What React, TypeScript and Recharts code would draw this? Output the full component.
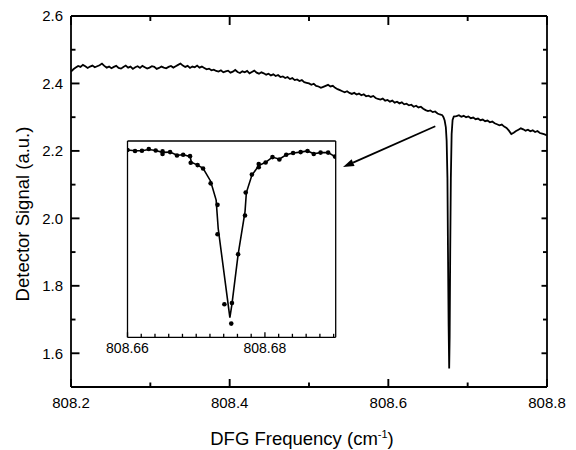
import { LineChart, Line, XAxis, YAxis, ReferenceLine, ComposedChart, Scatter, Label } from 'recharts'

const FONT = '"Liberation Sans", Arial, Helvetica, sans-serif'

// main scan: one sample every 0.003 cm-1 from 808.200; null where the finer dip samples take over
const scanStart = 808.2
const scanStep = 0.003
const scanSignal = [
  2.435, 2.442, 2.447, 2.452, 2.449, 2.455, 2.451, 2.446, 2.450, 2.453,
  2.448, 2.451, 2.454, 2.459, 2.452, 2.447, 2.450, 2.445, 2.449, 2.452,
  2.446, 2.444, 2.449, 2.453, 2.447, 2.450, 2.443, 2.448, 2.451, 2.446,
  2.452, 2.448, 2.444, 2.447, 2.451, 2.449, 2.443, 2.446, 2.450, 2.447,
  2.445, 2.449, 2.452, 2.447, 2.451, 2.455, 2.459, 2.453, 2.449, 2.452,
  2.446, 2.450, 2.448, 2.453, 2.447, 2.450, 2.446, 2.442, 2.444, 2.439,
  2.441, 2.437, 2.435, 2.439, 2.433, 2.436, 2.438, 2.432, 2.435, 2.440,
  2.434, 2.431, 2.436, 2.433, 2.437, 2.430, 2.434, 2.438, 2.432, 2.429,
  2.433, 2.430, 2.426, 2.429, 2.424, 2.427, 2.422, 2.425, 2.419, 2.421,
  2.416, 2.419, 2.413, 2.416, 2.410, 2.412, 2.407, 2.410, 2.404, 2.402,
  2.400, 2.396, 2.399, 2.393, 2.391, 2.387, 2.390, 2.393, 2.396, 2.391,
  2.393, 2.387, 2.383, 2.380, 2.377, 2.374, 2.377, 2.372, 2.369, 2.372,
  2.367, 2.370, 2.365, 2.368, 2.362, 2.364, 2.360, 2.363, 2.357, 2.354,
  2.352, 2.355, 2.349, 2.351, 2.346, 2.349, 2.343, 2.346, 2.341, 2.344,
  2.338, 2.340, 2.335, 2.337, 2.331, 2.334, 2.329, 2.331, 2.325, 2.321,
  2.318, 2.320, 2.315, 2.317, 2.311, 2.308, 2.306, null, null, null,
  null, null, 2.303, 2.306, 2.301, 2.304, 2.300, 2.302, 2.297, 2.299,
  2.294, 2.296, 2.291, 2.293, 2.288, 2.290, 2.285, 2.287, 2.282, 2.279,
  2.276, 2.278, 2.272, 2.268, 2.260, 2.250, 2.254, 2.259, 2.263, 2.267,
  2.264, 2.260, 2.263, 2.258, 2.261, 2.256, 2.259, 2.253, 2.251, 2.249,
  2.246,
]

// finer samples through the absorption line
const dipFreq = [808.6695, 808.671, 808.6725, 808.6735, 808.6745, 808.6752, 808.676, 808.6767, 808.6773, 808.678, 808.6788, 808.6798, 808.681, 808.6825]
const dipSignal = [2.3, 2.29, 2.27, 2.23, 2.12, 1.9, 1.68, 1.555, 1.65, 1.9, 2.12, 2.25, 2.292, 2.302]

const mainXTicks = [808.2, 808.3, 808.4, 808.5, 808.6, 808.7, 808.8]
const mainXLabels = [808.2, 808.4, 808.6, 808.8]
const mainYTicks = [1.6, 1.7, 1.8, 1.9, 2.0, 2.1, 2.2, 2.3, 2.4, 2.5, 2.6]
const mainYLabels = [1.6, 1.8, 2.0, 2.2, 2.4, 2.6]

// inset: measured points and the fitted curve
const insetDotFreq = [
  808.66, 808.6611, 808.6621, 808.6631, 808.6641, 808.6651, 808.6651, 808.6662, 808.6672, 808.6681,
  808.6691, 808.6692, 808.6702, 808.671, 808.6721, 808.6731, 808.6731, 808.6741, 808.6752, 808.6751,
  808.6761, 808.6771, 808.6772, 808.6781, 808.6791, 808.6791, 808.6801, 808.6811, 808.6821, 808.6831,
  808.6841, 808.6852, 808.6862, 808.6871, 808.6881, 808.6892, 808.6902,
]
const insetDotSignal = [
  2.292, 2.288, 2.289, 2.296, 2.29, 2.286, 2.275, 2.283, 2.269, 2.272,
  2.266, 2.238, 2.228, 2.214, 2.151, 2.06, 1.936, 1.64, 1.645, 1.558,
  1.851, 2.015, 2.112, 2.188, 2.219, 2.233, 2.239, 2.262, 2.252, 2.272,
  2.279, 2.283, 2.288, 2.275, 2.281, 2.281, 2.264,
]
const insetFitFreq = [
  808.66, 808.6611, 808.6621, 808.6631, 808.6641, 808.6651, 808.6662, 808.6672, 808.6681, 808.6691,
  808.6693, 808.6702, 808.671, 808.6721, 808.6729, 808.6732, 808.6749, 808.6752, 808.6761, 808.6771,
  808.6773, 808.6781, 808.6791, 808.6801, 808.6811, 808.6821, 808.6831, 808.6841, 808.6852, 808.6862,
  808.6871, 808.6881, 808.6892, 808.6902,
]
const insetFitSignal = [
  2.292, 2.289, 2.289, 2.294, 2.29, 2.282, 2.283, 2.27, 2.272, 2.265,
  2.24, 2.228, 2.214, 2.16, 2.08, 1.96, 1.583, 1.64, 1.851, 2.03,
  2.112, 2.185, 2.226, 2.24, 2.262, 2.253, 2.272, 2.279, 2.283, 2.288,
  2.276, 2.281, 2.281, 2.264,
]
const insetXTicks = [808.66, 808.662, 808.664, 808.666, 808.668, 808.67, 808.672, 808.674, 808.676, 808.678, 808.68, 808.682, 808.684, 808.686, 808.688, 808.69]
const insetXLabels = [808.66, 808.68]

// arrow from the dip to the inset
const arrowFrom = { x: 808.6592, y: 2.273 }
const arrowTo = { x: 808.5429, y: 2.152 }

const mainData = scanSignal
  .map((y, i) => (y == null ? null : { x: +(scanStart + i * scanStep).toFixed(3), y }))
  .filter((d): d is { x: number; y: number } => d != null)
  .concat(dipFreq.map((x, i) => ({ x, y: dipSignal[i] })))
  .sort((a, b) => a.x - b.x)

const insetDots = insetDotFreq.map((x, i) => ({ x, y: insetDotSignal[i] }))
const insetFit = insetFitFreq.map((x, i) => ({ x, y: insetFitSignal[i] }))

const isIn = (v: number, list: number[]) => list.some(l => Math.abs(l - v) < 1e-6)

type Side = 'bottom' | 'top' | 'left' | 'right'

// inward ticks; labels only where listed
function makeTick(side: Side, labels: number[], major: number, minor: number, opts: { fontSize?: number; gap?: number; digits?: number; width?: number } = {}) {
  const { fontSize = 15, gap = 0, digits = 1, width = 1.9 } = opts
  return (p: any) => {
    const v = p.payload.value
    const big = isIn(v, labels)
    const len = big ? major : minor
    const x = Number(p.x)
    const y = Number(p.y)
    let end = { x, y }
    if (side === 'bottom') end = { x, y: y - len }
    else if (side === 'top') end = { x, y: y + len }
    else if (side === 'left') end = { x: x + len, y }
    else end = { x: x - len, y }
    let text = null
    if (big && gap > 0) {
      if (side === 'bottom') {
        text = <text x={x} y={y + gap} textAnchor="middle" fontSize={fontSize} fontFamily={FONT} fill="#000">{v.toFixed(digits)}</text>
      } else if (side === 'left') {
        text = <text x={x - gap} y={y + fontSize * 0.36} textAnchor="end" fontSize={fontSize} fontFamily={FONT} fill="#000">{v.toFixed(digits)}</text>
      }
    }
    return (
      <g>
        <line x1={x} y1={y} x2={end.x} y2={end.y} stroke="#000" strokeWidth={width} />
        {text}
      </g>
    )
  }
}

const Arrow = (p: any) => {
  const { x1, y1, x2, y2 } = p
  const ang = Math.atan2(y2 - y1, x2 - x1)
  const len = 11
  const half = 3.6
  const bx = x2 - len * Math.cos(ang)
  const by = y2 - len * Math.sin(ang)
  const px = -Math.sin(ang) * half
  const py = Math.cos(ang) * half
  return (
    <g>
      <line x1={x1} y1={y1} x2={bx} y2={by} stroke="#000" strokeWidth={1.8} />
      <polygon points={`${x2},${y2} ${bx + px},${by + py} ${bx - px},${by - py}`} fill="#000" />
    </g>
  )
}

const XTitle = () => (
  <text x={302} y={445} textAnchor="middle" fontSize={18.5} fontFamily={FONT} fill="#000">
    DFG Frequency (cm<tspan dy={-7} fontSize={11}>-1</tspan><tspan dy={7}>)</tspan>
  </text>
)

const YTitle = () => (
  <text x={28.5} y={214} transform="rotate(-90, 28.5, 214)" textAnchor="middle" fontSize={18.5} fontFamily={FONT} fill="#000">
    Detector Signal (a.u.)
  </text>
)

const frame = { stroke: '#000', strokeWidth: 1.8 }
const insetFrame = { stroke: '#000', strokeWidth: 1.3 }

export default function App() {
  return (
    <div style={{ position: 'absolute', left: 0, top: 0, width: 576, height: 450, background: '#fff' }}>
      <LineChart width={576} height={450} data={mainData} margin={{ top: 15, right: 28, bottom: 62, left: 70 }}>
        <XAxis xAxisId="b" type="number" dataKey="x" domain={[808.2, 808.8]} allowDataOverflow ticks={mainXTicks} interval={0}
          height={1} tickLine={false} tickSize={0} tickMargin={0} axisLine={frame}
          tick={makeTick('bottom', mainXLabels, 8, 4.5, { gap: 20.7 })}>
          <Label content={XTitle} />
        </XAxis>
        <XAxis xAxisId="t" orientation="top" type="number" dataKey="x" domain={[808.2, 808.8]} allowDataOverflow ticks={mainXTicks} interval={0}
          height={1} tickLine={false} tickSize={0} tickMargin={0} axisLine={frame}
          tick={makeTick('top', mainXLabels, 9, 5)} />
        <YAxis yAxisId="l" type="number" domain={[1.5, 2.6]} allowDataOverflow ticks={mainYTicks} interval={0}
          width={1} tickLine={false} tickSize={0} tickMargin={0} axisLine={frame}
          tick={makeTick('left', mainYLabels, 8.5, 4.5, { gap: 8 })}>
          <Label content={YTitle} />
        </YAxis>
        <YAxis yAxisId="r" orientation="right" type="number" domain={[1.5, 2.6]} allowDataOverflow ticks={mainYTicks} interval={0}
          width={1} tickLine={false} tickSize={0} tickMargin={0} axisLine={frame}
          tick={makeTick('right', mainYLabels, 5.5, 4)} />
        <Line xAxisId="b" yAxisId="l" type="linear" dataKey="y" stroke="#000" strokeWidth={1.8} dot={false} isAnimationActive={false} />
        <ReferenceLine xAxisId="b" yAxisId="l" segment={[arrowFrom, arrowTo]} shape={Arrow} />
      </LineChart>

      <div style={{ position: 'absolute', left: 100, top: 120 }}>
        <ComposedChart width={260} height={250} margin={{ top: 20, right: 23.3, bottom: 31.7, left: 26.5 }}>
          <XAxis xAxisId="b" type="number" dataKey="x" domain={[808.66, 808.6903]} allowDataOverflow ticks={insetXTicks} interval={0}
            height={1} tickLine={false} tickSize={0} tickMargin={0} axisLine={insetFrame}
            tick={makeTick('bottom', insetXLabels, 5, 3.5, { gap: 15.7, fontSize: 14, digits: 2, width: 1.3 })} />
          <XAxis xAxisId="t" orientation="top" type="number" dataKey="x" domain={[808.66, 808.6903]} allowDataOverflow
            height={1} tick={false} tickLine={false} axisLine={insetFrame} />
          <YAxis yAxisId="l" type="number" domain={[1.5, 2.33]} allowDataOverflow width={1} tick={false} tickLine={false} axisLine={insetFrame} />
          <YAxis yAxisId="r" orientation="right" type="number" domain={[1.5, 2.33]} allowDataOverflow width={1} tick={false} tickLine={false} axisLine={insetFrame} />
          <Line xAxisId="b" yAxisId="l" data={insetFit} type="linear" dataKey="y" stroke="#000" strokeWidth={1.6} dot={false} isAnimationActive={false} />
          <Scatter xAxisId="b" yAxisId="l" data={insetDots} dataKey="y" isAnimationActive={false}
            shape={(p: any) => <circle cx={p.cx} cy={p.cy} r={2.3} fill="#000" />} />
        </ComposedChart>
      </div>
    </div>
  )
}
